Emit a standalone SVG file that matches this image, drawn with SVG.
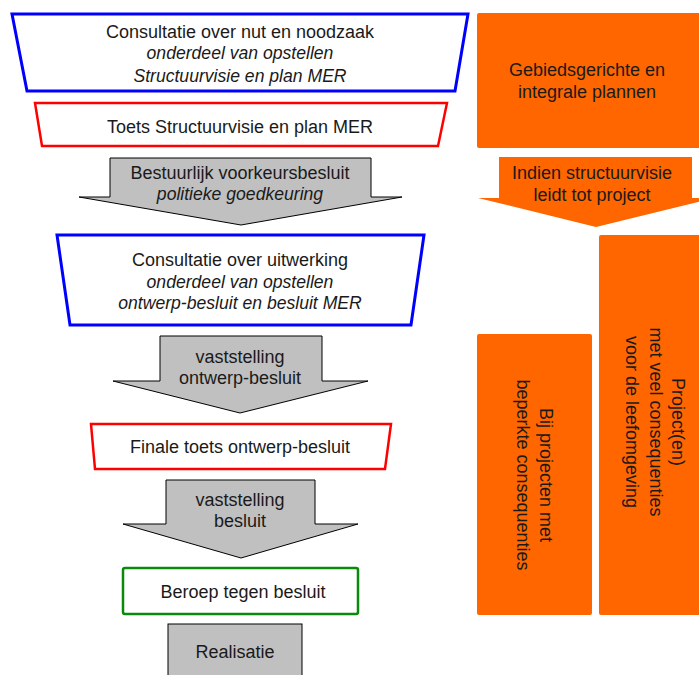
<svg xmlns="http://www.w3.org/2000/svg" width="699" height="675" viewBox="0 0 699 675">
<style>
text{font-family:"Liberation Sans",Arial,sans-serif;font-size:18px;fill:#1a1a1a;text-anchor:middle}
.i{font-style:italic;font-size:17.6px}
.blue{fill:#fff;stroke:#0000ff;stroke-width:3}
.red{fill:#fff;stroke:#ff0000;stroke-width:2.5}
.green{fill:#fff;stroke:#0a8a0a;stroke-width:2.5}
.gray{fill:#c0c0c0;stroke:#000;stroke-width:1}
.org{fill:#ff6600}
</style>
<g id="n1"><polygon class="blue" points="12,14 468,14 455,91 27,91"/>
<text x="240" y="38">Consultatie over nut en noodzaak</text>
<text class="i" x="240" y="59">onderdeel van opstellen</text>
<text class="i" x="240" y="82">Structuurvisie en plan MER</text></g>
<g id="n2"><polygon class="red" points="35,103 447,103 438,146 42,146"/>
<text x="240" y="133">Toets Structuurvisie en plan MER</text></g>
<g id="n3"><polygon class="gray" points="110,158 371,158 371,197 402,197 241,225 79,197 110,197"/>
<text x="240" y="179">Bestuurlijk voorkeursbesluit</text>
<text class="i" x="240" y="200">politieke goedkeuring</text></g>
<g id="n4"><polygon class="blue" points="57,235 424,235 411,325 70,325"/>
<text x="240" y="266">Consultatie over uitwerking</text>
<text class="i" x="240" y="288">onderdeel van opstellen</text>
<text class="i" x="240" y="309">ontwerp-besluit en besluit MER</text></g>
<g id="n5"><polygon class="gray" points="160,336 322,336 322,381 368,381 240,413 113,381 160,381"/>
<text x="240" y="363">vaststelling</text>
<text x="240" y="384">ontwerp-besluit</text></g>
<g id="n6"><polygon class="red" points="91,424 391,424 385,469 95,469"/>
<text x="240" y="453">Finale toets ontwerp-besluit</text></g>
<g id="n7"><polygon class="gray" points="166,480 315,480 315,524 358,524 241,558 123,524 166,524"/>
<text x="240" y="506">vaststelling</text>
<text x="240" y="527">besluit</text></g>
<g id="n8"><rect class="green" x="123" y="568" width="235" height="46" rx="2"/>
<text x="243" y="598">Beroep tegen besluit</text></g>
<g id="n9"><rect class="gray" x="168" y="624" width="134" height="60"/>
<text x="235" y="658">Realisatie</text></g>
<g id="n10"><rect class="org" x="477" y="13" width="230" height="135" rx="2"/>
<text x="587" y="76">Gebiedsgerichte en</text>
<text x="587" y="98">integrale plannen</text></g>
<g id="n11"><polygon class="org" points="499,157 692,157 692,198 714,198 596,227 478,198 499,198"/>
<text x="592" y="179">Indien structuurvisie</text>
<text x="592" y="201">leidt tot project</text></g>
<g id="n12"><rect class="org" x="599" y="235" width="110" height="380" rx="2"/>
<g transform="translate(650,422) rotate(90)">
<text x="0" y="-22">Project(en)</text>
<text x="0" y="0">met veel consequenties</text>
<text x="0" y="24">voor de leefomgeving</text></g></g>
<g id="n13"><rect class="org" x="477" y="334" width="115" height="281" rx="2"/>
<g transform="translate(530,475) rotate(90)">
<text x="0" y="-10">Bij projecten met</text>
<text x="0" y="13">beperkte consequenties</text></g></g>
<g id="connectors"></g>
</svg>
